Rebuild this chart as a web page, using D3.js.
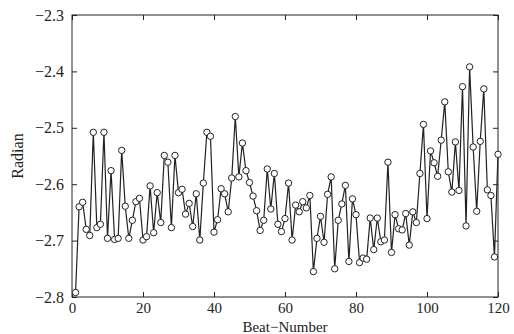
<!DOCTYPE html>
<html>
<head>
<meta charset="utf-8">
<script src="https://cdn.jsdelivr.net/npm/d3@7"></script>
<style>
	body { margin: 0; background: #fff; }
	text { font-family: "Liberation Serif", "DejaVu Serif", serif; fill: #222; }
</style>
</head>
<body>
<svg id="chart" width="514" height="334"></svg>
<script>
// beat numbers 1..120 and the radian value
const beats = d3.range(1, 121);
const radian = [
	-2.792, -2.640, -2.632, -2.680, -2.691, -2.508, -2.677, -2.671, -2.508, -2.696,
	-2.576, -2.698, -2.696, -2.540, -2.639, -2.696, -2.664, -2.631, -2.625, -2.699,
	-2.693, -2.603, -2.686, -2.615, -2.668, -2.549, -2.561, -2.677, -2.549, -2.615,
	-2.609, -2.653, -2.634, -2.675, -2.617, -2.699, -2.598, -2.508, -2.515, -2.685,
	-2.663, -2.608, -2.617, -2.649, -2.589, -2.480, -2.587, -2.527, -2.576, -2.597,
	-2.621, -2.647, -2.682, -2.664, -2.573, -2.644, -2.581, -2.671, -2.684, -2.661,
	-2.598, -2.699, -2.637, -2.649, -2.631, -2.642, -2.620, -2.755, -2.696, -2.657,
	-2.703, -2.618, -2.587, -2.750, -2.664, -2.635, -2.602, -2.737, -2.626, -2.654,
	-2.739, -2.731, -2.733, -2.660, -2.716, -2.660, -2.702, -2.699, -2.561, -2.721,
	-2.654, -2.679, -2.681, -2.652, -2.708, -2.649, -2.668, -2.581, -2.494, -2.661,
	-2.541, -2.562, -2.586, -2.522, -2.454, -2.578, -2.614, -2.525, -2.611, -2.427,
	-2.674, -2.392, -2.534, -2.648, -2.524, -2.431, -2.610, -2.620, -2.729, -2.547
];
const xTicks = [0, 20, 40, 60, 80, 100, 120];
const yTicks = [-2.8, -2.7, -2.6, -2.5, -2.4, -2.3];

const svg = d3.select("#chart");
const plotLeft = 72, plotRight = 498, plotTop = 15, plotBottom = 297;

const x = d3.scaleLinear().domain([0, 120]).range([plotLeft, plotRight]);
const y = d3.scaleLinear().domain([-2.8, -2.3]).range([plotBottom, plotTop]);

const ink = "#222";

// frame
svg.append("rect")
	.attr("x", plotLeft).attr("y", plotTop)
	.attr("width", plotRight - plotLeft).attr("height", plotBottom - plotTop)
	.attr("fill", "none").attr("stroke", ink).attr("stroke-width", 1);

// inward ticks, matlab style, on all four sides
const tickLen = 5;
const bottomAxis = svg.append("g").attr("transform", `translate(0,${plotBottom})`)
	.call(d3.axisBottom(x).tickValues(xTicks).tickSizeInner(-tickLen).tickSizeOuter(0).tickPadding(5).tickFormat(d3.format("d")));
const topAxis = svg.append("g").attr("transform", `translate(0,${plotTop})`)
	.call(d3.axisTop(x).tickValues(xTicks).tickSizeInner(-tickLen).tickSizeOuter(0).tickFormat(""));
const leftAxis = svg.append("g").attr("transform", `translate(${plotLeft},0)`)
	.call(d3.axisLeft(y).tickValues(yTicks).tickSizeInner(-tickLen).tickSizeOuter(0).tickPadding(8).tickFormat(d3.format(".1f")));
const rightAxis = svg.append("g").attr("transform", `translate(${plotRight},0)`)
	.call(d3.axisRight(y).tickValues(yTicks).tickSizeInner(-tickLen).tickSizeOuter(0).tickFormat(""));

[bottomAxis, topAxis, leftAxis, rightAxis].forEach((g) => {
	g.select(".domain").remove();
	g.selectAll("line").attr("stroke", ink);
	g.selectAll("text").attr("font-size", "16px").attr("fill", ink)
		.attr("font-family", "Liberation Serif, serif");
});
bottomAxis.selectAll("text").attr("font-size", "15px");

// data line
const pts = beats.map((b, i) => ({ b, v: radian[i] }));
const line = d3.line().x((d) => x(d.b)).y((d) => y(d.v));

svg.append("path")
	.attr("d", line(pts))
	.attr("fill", "none")
	.attr("stroke", ink)
	.attr("stroke-width", 1.2);

svg.append("g").selectAll("circle")
	.data(pts)
	.join("circle")
	.attr("cx", (d) => x(d.b))
	.attr("cy", (d) => y(d.v))
	.attr("r", 3.2)
	.attr("fill", "#fff")
	.attr("stroke", ink)
	.attr("stroke-width", 1);

// axis titles
svg.append("text")
	.attr("x", (plotLeft + plotRight) / 2)
	.attr("y", 332)
	.attr("text-anchor", "middle")
	.attr("font-size", "15px")
	.text("Beat\u2212Number");

svg.append("text")
	.attr("transform", `translate(23,${(plotTop + plotBottom) / 2}) rotate(-90)`)
	.attr("text-anchor", "middle")
	.attr("font-size", "16px")
	.text("Radian");
</script>
</body>
</html>
